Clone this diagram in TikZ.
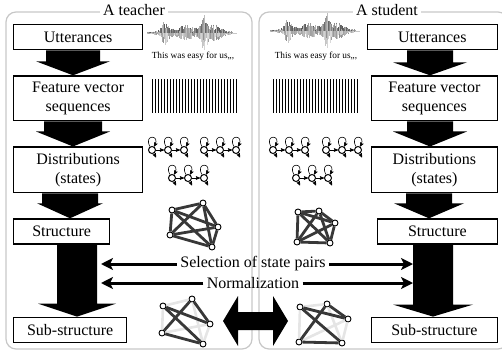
\documentclass[tikz,border=0pt]{standalone}
\usepackage{fontspec}
\setmainfont{Liberation Serif}
\usetikzlibrary{shapes, arrows, arrows.meta, positioning, calc}
\usetikzlibrary{automata}
\definecolor{framegray}{gray}{0.78}
\definecolor{edgegray}{gray}{0.22}
\definecolor{faintgray}{gray}{0.9}
\tikzset{box/.style={draw, rectangle, line width=1.3pt, minimum height=25pt, inner ysep=6pt, align=center},
         frame/.style={draw=framegray, line width=1.2pt, rounded corners=10pt},
         hstate/.style={draw, circle, inner sep=0pt, minimum size=7pt, line width=1pt},
         hedge/.style={->, >=stealth', line width=0.6pt},
         gnode/.style={draw, circle, fill=white, inner sep=0pt, minimum size=6pt, line width=0.9pt},
         gedge/.style={draw=edgegray, line width=2.8pt},
         gfaint/.style={draw=faintgray, line width=2.6pt},
         opline/.style={-{Stealth[length=12pt, width=12pt, inset=3pt]}, line width=3pt},
         >=stealth'}
% fat arrow from node #1 down to node #2, centre x #3, half shaft #4, half head #5, head length #6
\newcommand{\blockarrow}[6]{%
  \path[fill=black] let \p1=(#1.south), \p2=(#2.north) in
    (#3-#4,\y1) -- (#3+#4,\y1) -- (#3+#4,\y2+#6) -- (#3+#5,\y2+#6) -- (#3,\y2)
    -- (#3-#5,\y2+#6) -- (#3-#4,\y2+#6) -- cycle;}
% three-state left-to-right model, prefix #1, first state at (#2,#3)
\newcommand{\hmm}[3]{%
  \foreach \k in {1,2,3}
    \node[hstate] (#1\k) at ({#2+16*(\k-1)},#3) {};
  \foreach \k/\n in {1/2,2/3}
    \draw[hedge] (#1\k) -- (#1\n);
  \foreach \k in {1,2,3} {
    \draw[hedge] (#1\k) to[loop above, out=120, in=60, min distance=5mm] (#1\k);
    \draw[hedge] (#1\k.-60) -- ++(2,4);
  }}
% speech waveform from x #1, centre line y #2
\newcommand{\wave}[2]{%
  \pgfmathsetseed{11}
  \draw[framegray, line width=0.4pt] (#1,#2) -- (#1+90,#2);
  \foreach \i in {0,...,170} {
    \pgfmathsetmacro{\wt}{\i*0.5}
    \pgfmathsetmacro{\we}{0.3+13/(1+(\wt-18)*(\wt-18)/9)+7/(1+(\wt-38)*(\wt-38)/64)+15/(1+(\wt-57)*(\wt-57)/9)+7/(1+(\wt-68)*(\wt-68)/49)}
    \pgfmathsetmacro{\wa}{\we*(0.2+0.8*rnd)}
    \pgfmathsetmacro{\wb}{\we*(0.3+0.7*rnd)}
    \pgfmathsetmacro{\wc}{int(25+45*rnd)}
    \pgfmathsetmacro{\wd}{int(15+30*rnd)}
    \draw[black!\wc, line width=0.35pt] (#1+\wt,#2-\wa) -- (#1+\wt,#2);
    \draw[black!\wd, line width=0.35pt] (#1+\wt,#2) -- (#1+\wt,#2+\wb);
  }}

\begin{document}
\begin{tikzpicture}[x=1pt, y=-1pt, font=\fontsize{16}{19}\selectfont]
    \useasboundingbox (0,0) rectangle (502,353);
    \clip (0,0) rectangle (502,353);

    % two panels
    \draw[frame] (6,12) rectangle (252,349);
    \draw[frame] (259,12) rectangle (508,349);
    \node[fill=white, inner sep=3pt] (tlabel) at (134,10) {A teacher};
    \node[fill=white, inner sep=3pt] (slabel) at (387,10) {A student};

    % teacher column
    \node[box, minimum width=129pt, anchor=north west] (tutt) at (13,24) {Utterances};
    \node[box, minimum width=129pt, below=25pt of tutt.south west, anchor=north west] (tfeat) {Feature vector\\sequences};
    \node[box, minimum width=129pt, below=25pt of tfeat.south west, anchor=north west] (tdist) {Distributions\\(states)};
    \node[box, minimum width=96pt, below=25pt of tdist.south west, anchor=north west] (tstruct) {Structure};
    \node[box, minimum width=113pt, below=72pt of tstruct.south west, anchor=north west] (tsub) {Sub-structure};

    % student column
    \node[box, minimum width=130pt, anchor=north east] (sutt) at (498,24) {Utterances};
    \node[box, minimum width=126pt, below=25pt of sutt.south east, anchor=north east] (sfeat) {Feature vector\\sequences};
    \node[box, minimum width=126pt, below=25pt of sfeat.south east, anchor=north east] (sdist) {Distributions\\(states)};
    \node[box, minimum width=120pt, below=25pt of sdist.south east, anchor=north east] (sstruct) {Structure};
    \node[box, minimum width=126pt, below=72pt of sstruct.south east, anchor=north east] (ssub) {Sub-structure};

    \blockarrow{tutt}{tfeat}{73}{27}{37}{14}
    \blockarrow{tfeat}{tdist}{73}{29}{37}{15}
    \blockarrow{tdist}{tstruct}{70}{28}{33}{15}
    \blockarrow{tstruct}{tsub}{77}{20}{39}{13}
    \blockarrow{sutt}{sfeat}{430}{23}{37}{13}
    \blockarrow{sfeat}{sdist}{430}{23}{37}{15}
    \blockarrow{sdist}{sstruct}{429}{23}{35}{15}
    \blockarrow{sstruct}{ssub}{433}{20}{40}{12}

    % operations on both structures
    \node (sel) at (253,264) {Selection of state pairs};
    \node (norm) at (253,283) {Normalization};
    \coordinate (tsel) at (101,264);
    \coordinate (ssel) at (413,264);
    \coordinate (tnorm) at (101,283);
    \coordinate (snorm) at (413,283);
    \draw[opline] (sel) -- (tsel);
    \draw[opline] (sel) -- (ssel);
    \draw[opline] (norm) -- (tnorm);
    \draw[opline] (norm) -- (snorm);

    % utterances
    \wave{147}{33}
    \wave{270}{31}
    \node[font=\fontsize{9.3}{11}\selectfont] (tsay) at (193,56) {This was easy for us,,,};
    \node[font=\fontsize{9.3}{11}\selectfont] (ssay) at (316,56) {This was easy for us,,,};

    % feature vectors
    \foreach \k in {0,...,28} {
        \draw[line width=1pt] (152+3*\k,79) -- (152+3*\k,113);
        \draw[line width=1pt] (273+3*\k,79) -- (273+3*\k,113);
    }

    % state models
    \hmm{ta}{152}{150}
    \hmm{tb}{204}{150}
    \hmm{tc}{172}{178}
    \hmm{sa}{273}{150}
    \hmm{sb}{326}{150}
    \hmm{sc}{296}{178}

    % structures
    \foreach \n/\x/\y in {1/172/210, 2/203/203, 3/218/227, 4/212/247, 5/170/235}
        \node[gnode] (tg\n) at (\x,\y) {};
    \foreach \n/\x/\y in {1/298/212, 2/319/211, 3/335/223, 4/330/243, 5/297/242}
        \node[gnode] (sg\n) at (\x,\y) {};
    \foreach \a/\b in {1/2,1/3,1/4,1/5,2/3,2/4,2/5,3/4,3/5,4/5} {
        \draw[gedge] (tg\a) -- (tg\b);
        \draw[gedge] (sg\a) -- (sg\b);
    }

    % sub-structures
    \foreach \n/\x/\y in {1/163/306, 2/192/299, 3/210/324, 4/203/344, 5/162/333}
        \node[gnode] (tsg\n) at (\x,\y) {};
    \foreach \n/\x/\y in {1/300/307, 2/327/304, 3/348/319, 4/342/343, 5/299/342}
        \node[gnode] (ssg\n) at (\x,\y) {};
    \foreach \a/\b in {1/2,1/5,2/4,3/4,3/5} {
        \draw[gfaint] (tsg\a) -- (tsg\b);
        \draw[gfaint] (ssg\a) -- (ssg\b);
    }
    \foreach \a/\b in {1/3,1/4,2/5,2/3,4/5} {
        \draw[gedge] (tsg\a) -- (tsg\b);
        \draw[gedge] (ssg\a) -- (ssg\b);
    }

    % comparison of the two sub-structures
    \fill (223,321) -- (238,296) -- (238,312) -- (273,312) -- (273,296) -- (288,321)
        -- (273,346) -- (273,330) -- (238,330) -- (238,346) -- cycle;
\end{tikzpicture}
\end{document}
